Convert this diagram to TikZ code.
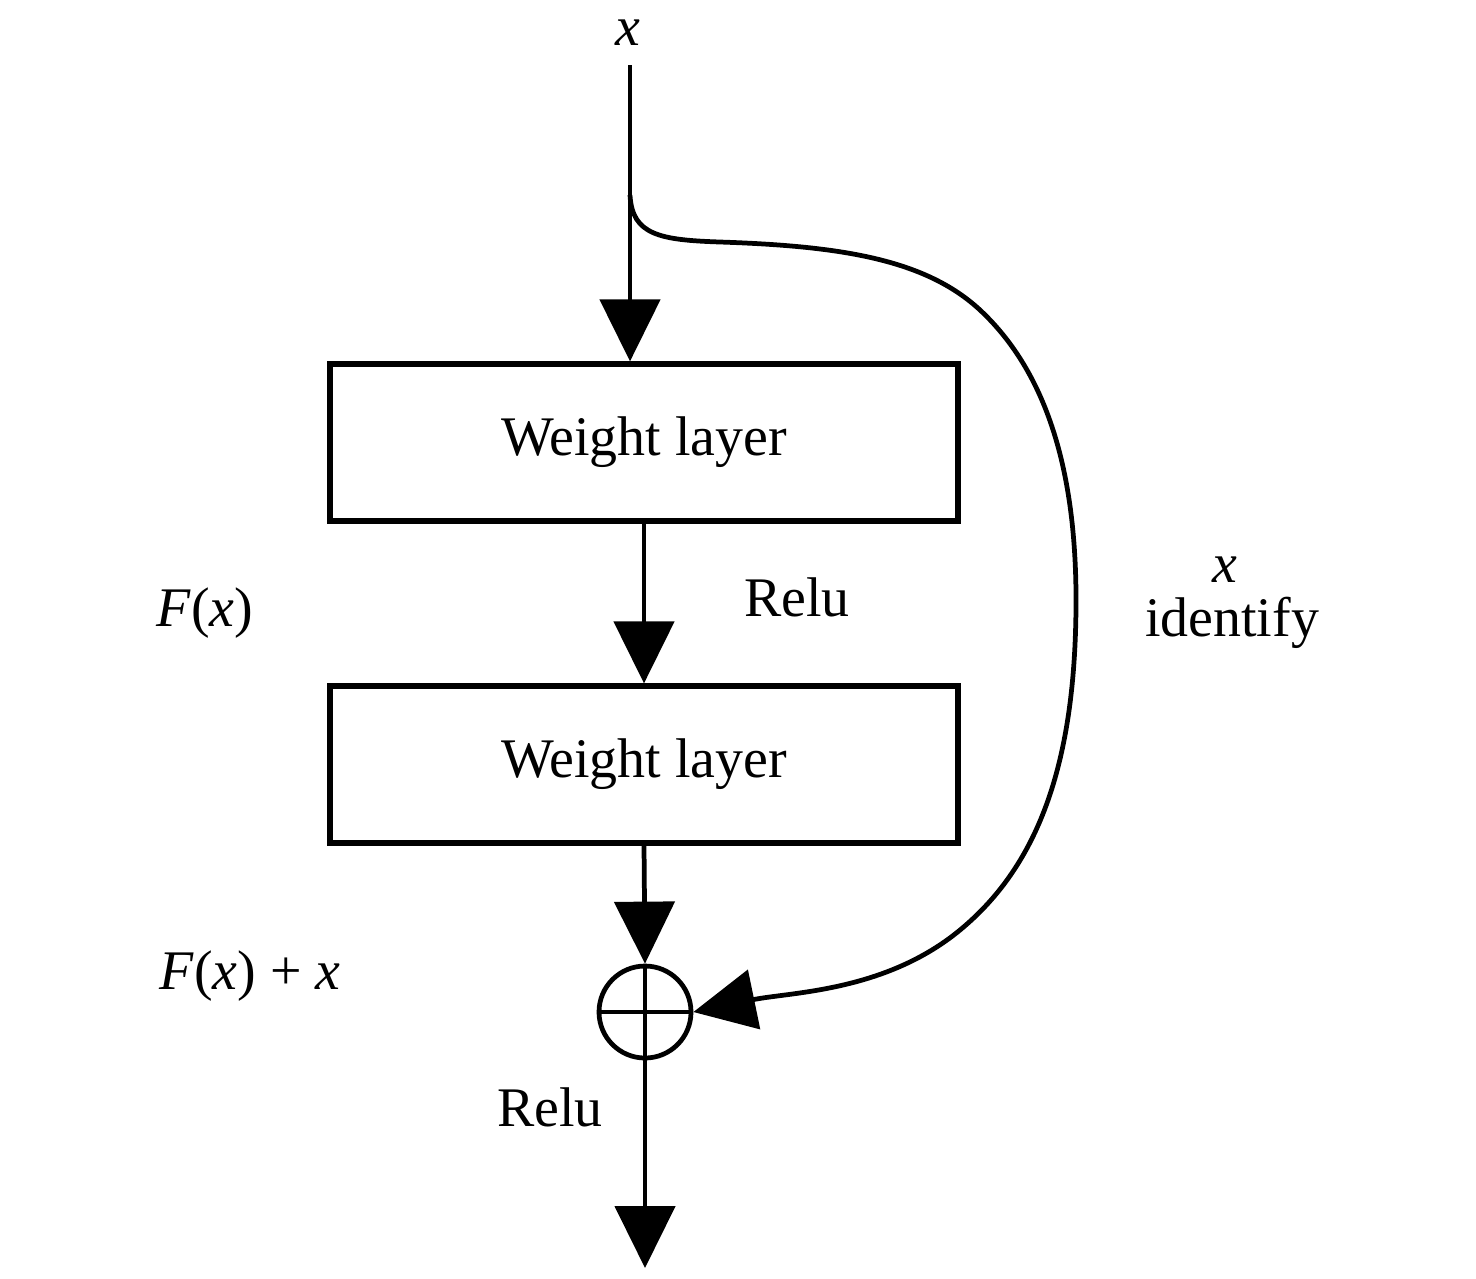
\documentclass[tikz,border=0pt]{standalone}
\usepackage{fontspec}
\setmainfont{Liberation Serif}
\usepackage{tikz}
\usetikzlibrary{arrows.meta,positioning}
\tikzset{
	>={Triangle[length=6.2mm,width=6mm]}, % big filled heads
	every picture/.style={line width=1.35pt},
	font=\fontsize{15.9}{18}\selectfont,
	every node/.style={inner sep=0pt},
	layer/.style={draw, line width=1.5pt, minimum width=6.28cm, minimum height=1.57cm},
	adder/.style={draw, circle, line width=1.35pt, minimum size=0.92cm},
	lbl/.style={anchor=base},
}

\begin{document}
\begin{tikzpicture}
        \useasboundingbox (0,0) rectangle (14.76,-12.78);
        \node[lbl] (in) at (6.28,-0.45) {\textit{x}};
        \coordinate (start) at (6.30,-0.65);
        \node[layer] (w1) at (6.44,-4.425) {Weight layer};
        \node[layer] (w2) at (6.44,-7.645) {Weight layer};
        \node[adder] (add) at (6.45,-10.12) {};
        \coordinate (out) at (6.45,-12.68);
        
        \draw[->] (start) -- (start |- w1.north);
        \draw[->] (w1.south) -- (w2.north);
        \draw[->] (w2.south) -- (add.north);
        \draw (add.north) -- (add.south);
        \draw (add.west) -- (add.east);
        \draw[->] (add.south) -- (out);
        
        % identity shortcut
        \coordinate (fork) at (6.30,-1.95);
        \draw[->] (fork) .. controls (6.32,-2.35) and (6.60,-2.40) .. (7.20,-2.42)
            .. controls (8.40,-2.46) and (9.25,-2.59) .. (9.80,-3.10)
            .. controls (10.55,-3.80) and (10.76,-4.90) .. (10.76,-6.00)
            .. controls (10.76,-7.60) and (10.40,-8.64) .. (9.60,-9.30)
            .. controls (8.85,-9.92) and (7.90,-9.92) .. (add.east);
        
        \node[lbl] (relu1) at (7.97,-6.16) {Relu};
        \node[lbl] (fx) at (2.05,-6.26) {\textit{F}(\textit{x})};
        \node[lbl] (idx) at (12.25,-5.82) {\textit{x}};
        \node[lbl] (ident) at (12.32,-6.36) {identify};
        \node[lbl] (sum) at (2.50,-9.89) {\textit{F}(\textit{x}) + \textit{x}};
        \node[lbl] (relu2) at (5.50,-11.26) {Relu};
    \end{tikzpicture}
\end{document}
